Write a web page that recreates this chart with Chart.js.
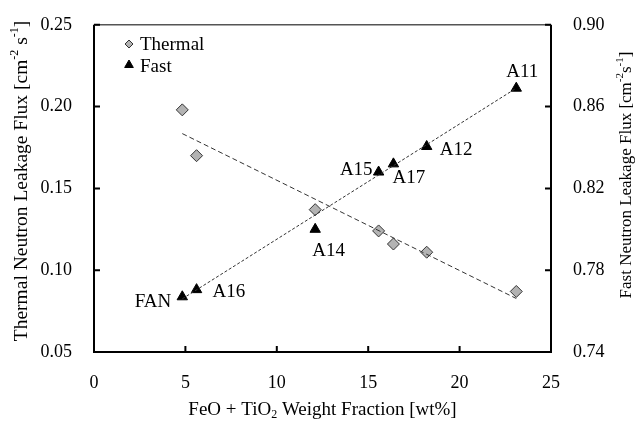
<!DOCTYPE html>
<html>
<head>
<meta charset="utf-8">
<script src="https://cdn.jsdelivr.net/npm/chart.js@4.4.1/dist/chart.umd.min.js"></script>
<style>
  body { margin: 0; background: #fff; }
  #wrap { width: 644px; height: 425px; }
</style>
</head>
<body>
<div id="wrap"><canvas id="fluxChart"></canvas></div>
<script>
// values
const weightFraction = [4.83, 5.61, 12.1, 15.57, 16.38, 18.2, 23.1];
const thermalFlux = [0.198, 0.170, 0.137, 0.124, 0.116, 0.111, 0.087];
const fastFlux = [0.767, 0.7705, 0.800, 0.828, 0.832, 0.8405, 0.869];
const sampleNames = ['FAN', 'A16', 'A14', 'A15', 'A17', 'A12', 'A11'];

// fitted lines, end points as drawn
const thermalFitX = [4.83, 23.1];
const thermalFitY = [0.1835, 0.0827];
const fastFitX = [4.83, 23.1];
const fastFitY = [0.766, 0.869];

const xTicks = [0, 5, 10, 15, 20, 25];
const thermalTicks = [0.05, 0.10, 0.15, 0.20, 0.25];
const fastTicks = [0.74, 0.78, 0.82, 0.86, 0.90];

const FONT = "'Liberation Serif', 'Times New Roman', serif";

// label placement around the triangles [dx, dy, align]
const labelOffsets = [
  [-11, 5, 'right'], [16, 2, 'left'], [-3, 22, 'left'], [-6, -2, 'right'],
  [-1, 14, 'left'], [13, 4, 'left'], [6, -16, 'center']
];

const toPoints = (xs, ys) => xs.map((x, i) => ({ x: x, y: ys[i] }));

function drawRich(ctx, runs, x, y, size, rotate) {
  ctx.save();
  ctx.translate(x, y);
  if (rotate) ctx.rotate(-Math.PI / 2);
  const small = Math.round(size * 0.62);
  let total = 0;
  runs.forEach(r => {
    ctx.font = (r.sup || r.sub ? small : size) + 'px ' + FONT;
    total += ctx.measureText(r.t).width;
  });
  let cx = -total / 2;
  ctx.textBaseline = 'middle';
  ctx.textAlign = 'left';
  ctx.fillStyle = '#000';
  runs.forEach(r => {
    ctx.font = (r.sup || r.sub ? small : size) + 'px ' + FONT;
    let dy = 0;
    if (r.sup) dy = -size * 0.38;
    if (r.sub) dy = size * 0.25;
    ctx.fillText(r.t, cx, dy);
    cx += ctx.measureText(r.t).width;
  });
  ctx.restore();
}

const decorPlugin = {
  id: 'decor',
  afterDatasetsDraw(chart) {
    const ctx = chart.ctx;
    const a = chart.chartArea;
    const xs = chart.scales.x, ys = chart.scales.y, y2 = chart.scales.y2;

    // frame
    ctx.save();
    ctx.strokeStyle = '#000';
    ctx.lineWidth = 2;
    ctx.beginPath();
    ctx.moveTo(a.left, a.top);
    ctx.lineTo(a.left, a.bottom);
    ctx.lineTo(a.right, a.bottom);
    ctx.lineTo(a.right, a.top);
    ctx.stroke();
    ctx.strokeStyle = '#555';
    ctx.lineWidth = 1.5;
    ctx.beginPath();
    ctx.moveTo(a.left, a.top);
    ctx.lineTo(a.right, a.top);
    ctx.stroke();

    // inward tick marks
    ctx.strokeStyle = '#000';
    ctx.lineWidth = 2;
    ctx.beginPath();
    xTicks.forEach(v => {
      const p = xs.getPixelForValue(v);
      ctx.moveTo(p, a.bottom);
      ctx.lineTo(p, a.bottom - 6);
    });
    thermalTicks.forEach(v => {
      const p = ys.getPixelForValue(v);
      ctx.moveTo(a.left, p);
      ctx.lineTo(a.left + 6, p);
    });
    fastTicks.forEach(v => {
      const p = y2.getPixelForValue(v);
      ctx.moveTo(a.right, p);
      ctx.lineTo(a.right - 6, p);
    });
    ctx.stroke();

    // sample labels
    ctx.fillStyle = '#000';
    ctx.font = '19px ' + FONT;
    ctx.textBaseline = 'middle';
    sampleNames.forEach((name, i) => {
      const px = xs.getPixelForValue(weightFraction[i]);
      const py = y2.getPixelForValue(fastFlux[i]);
      const o = labelOffsets[i];
      ctx.textAlign = o[2];
      ctx.fillText(name, px + o[0], py + o[1]);
    });

    // legend
    const h = Chart.helpers;
    ctx.fillStyle = '#b3b3b3';
    ctx.strokeStyle = '#333';
    ctx.lineWidth = 1;
    h.drawPoint(ctx, { pointStyle: 'rectRot', radius: 4, borderWidth: 1 }, 129, 44);
    ctx.fillStyle = '#000';
    ctx.strokeStyle = '#000';
    h.drawPoint(ctx, { pointStyle: 'triangle', radius: 5, borderWidth: 1 }, 129, 65);
    ctx.fillStyle = '#000';
    ctx.font = '19px ' + FONT;
    ctx.textAlign = 'left';
    ctx.textBaseline = 'alphabetic';
    ctx.fillText('Thermal', 140, 50);
    ctx.fillText('Fast', 140, 72);

    // axis titles
    drawRich(ctx, [{ t: 'FeO + TiO' }, { t: '2', sub: true }, { t: ' Weight Fraction [wt%]' }],
      (a.left + a.right) / 2, 410, 19, false);
    drawRich(ctx, [{ t: 'Thermal Neutron Leakage Flux [cm' }, { t: '-2', sup: true }, { t: ' s' },
      { t: '-1', sup: true }, { t: ']' }], 22, 181, 19.5, true);
    drawRich(ctx, [{ t: 'Fast Neutron Leakage Flux [cm' }, { t: '-2', sup: true }, { t: 's' },
      { t: '-1', sup: true }, { t: ']' }], 627, 175, 17, true);
    ctx.restore();
  }
};

const tickFont = { family: FONT, size: 18 };

new Chart(document.querySelector('#fluxChart'), {
  type: 'scatter',
  data: {
    datasets: [
      {
        label: 'Thermal fit',
        type: 'line',
        data: toPoints(thermalFitX, thermalFitY),
        yAxisID: 'y',
        borderColor: '#333',
        borderWidth: 1,
        borderDash: [5, 3],
        pointRadius: 0,
        fill: false
      },
      {
        label: 'Fast fit',
        type: 'line',
        data: toPoints(fastFitX, fastFitY),
        yAxisID: 'y2',
        borderColor: '#333',
        borderWidth: 1,
        borderDash: [3, 2],
        pointRadius: 0,
        fill: false
      },
      {
        label: 'Thermal',
        data: toPoints(weightFraction, thermalFlux),
        yAxisID: 'y',
        pointStyle: 'rectRot',
        pointRadius: 6,
        backgroundColor: '#b3b3b3',
        borderColor: '#333',
        borderWidth: 1
      },
      {
        label: 'Fast',
        data: toPoints(weightFraction, fastFlux),
        yAxisID: 'y2',
        pointStyle: 'triangle',
        pointRadius: 6,
        backgroundColor: '#000',
        borderColor: '#000',
        borderWidth: 1
      }
    ]
  },
  options: {
    responsive: true,
    maintainAspectRatio: false,
    animation: false,
    layout: { padding: { top: 16, left: 0, right: 0, bottom: 0 } },
    plugins: {
      legend: { display: false },
      tooltip: { enabled: false }
    },
    scales: {
      x: {
        type: 'linear',
        min: 0, max: 25,
        afterBuildTicks: s => { s.ticks = xTicks.map(v => ({ value: v })); },
        afterFit: s => { s.height = 73; },
        grid: { display: false },
        border: { display: false },
        ticks: { font: tickFont, color: '#000', padding: 12, maxRotation: 0 }
      },
      y: {
        position: 'left',
        min: 0.05, max: 0.25,
        afterBuildTicks: s => { s.ticks = thermalTicks.map(v => ({ value: v })); },
        afterFit: s => { s.width = 94; },
        grid: { display: false },
        border: { display: false },
        ticks: { font: tickFont, color: '#000', padding: 14, callback: v => v.toFixed(2) }
      },
      y2: {
        position: 'right',
        min: 0.74, max: 0.90,
        afterBuildTicks: s => { s.ticks = fastTicks.map(v => ({ value: v })); },
        afterFit: s => { s.width = 93; },
        grid: { display: false },
        border: { display: false },
        ticks: { font: tickFont, color: '#000', padding: 14, callback: v => v.toFixed(2) }
      }
    }
  },
  plugins: [decorPlugin]
});
</script>
</body>
</html>
